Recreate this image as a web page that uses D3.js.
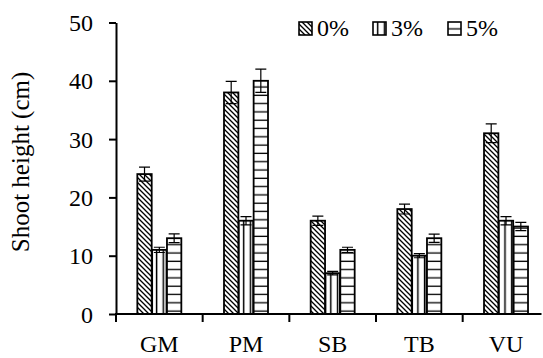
<!DOCTYPE html>
<html><head><meta charset="utf-8">
<script src="https://cdn.jsdelivr.net/npm/d3@7"></script>
<style>body{margin:0;background:#fff}svg{display:block}svg text{fill:#000}</style>
</head><body>
<svg id="c" width="543" height="358"></svg>
<script>
const categories = ["GM","PM","SB","TB","VU"];
const series = ["0%","3%","5%"];
const values0 = [24,38,16,18,31];
const values3 = [11,16,7,10,16];
const values5 = [13,40,11,13,15];
const err0 = [1.2,1.9,0.8,0.85,1.6];
const err3 = [0.45,0.7,0.3,0.35,0.7];
const err5 = [0.75,2.0,0.45,0.7,0.7];
const yTicks = [0,10,20,30,40,50];

const vals = [values0, values3, values5];
const errs = [err0, err3, err5];
const FONT = '"Liberation Serif","Times New Roman",serif';
const FS = 24;
const svg = d3.select("#c");
const defs = svg.append("defs");
const p0 = defs.append("pattern").attr("id","pat0").attr("patternUnits","userSpaceOnUse").attr("width",5).attr("height",5);
p0.append("rect").attr("width",5).attr("height",5).attr("fill","#fff");
p0.append("path").attr("d","M0,0L5,5M-1,4L1,6M4,-1L6,1").attr("stroke","#000").attr("stroke-width",1.3);
const p3 = defs.append("pattern").attr("id","pat3").attr("patternUnits","userSpaceOnUse").attr("width",6.7).attr("height",10);
p3.append("rect").attr("width",6.7).attr("height",10).attr("fill","#fff");
p3.append("path").attr("d","M2.5,0V10").attr("stroke","#000").attr("stroke-width",1.5);
const p5 = defs.append("pattern").attr("id","pat5").attr("patternUnits","userSpaceOnUse").attr("width",10).attr("height",8.3);
p5.append("rect").attr("width",10).attr("height",8.3).attr("fill","#fff");
p5.append("path").attr("d","M0,4H10").attr("stroke","#000").attr("stroke-width",1.3);
const fills = ["url(#pat0)","url(#pat3)","url(#pat5)"];

const left = 116, bandW = 86.67;
const x = d3.scaleBand().domain(categories).range([left, left + bandW*categories.length]).padding(0);
const xs = d3.scaleBand().domain(series).range([x.bandwidth()/2 - 22, x.bandwidth()/2 + 22]).paddingInner(0.03);
const y = d3.scaleLinear().domain([0,50]).range([314, 22.5]);

const g = svg.append("g");
categories.forEach((c,i)=>{
  series.forEach((s,j)=>{
    const bx = x(c) + xs(s), bw = xs.bandwidth();
    const v = vals[j][i], e = errs[j][i];
    g.append("rect").attr("x",bx).attr("y",y(v)).attr("width",bw).attr("height",y(0)-y(v))
      .attr("fill",fills[j]).attr("stroke","#000").attr("stroke-width",1.8);
    const cx = bx + bw/2;
    g.append("path").attr("d",`M${cx},${y(v+e)}V${y(v-e)}M${cx-5.5},${y(v+e)}H${cx+5.5}M${cx-5.5},${y(v-e)}H${cx+5.5}`)
      .attr("stroke","#000").attr("stroke-width",1.2).attr("fill","none");
  });
});

const ya = svg.append("g").attr("transform",`translate(${left},0)`)
  .call(d3.axisLeft(y).tickValues(yTicks).tickSize(7).tickSizeOuter(0).tickPadding(16));
ya.select(".domain").attr("stroke-width",2);
ya.selectAll(".tick line").attr("stroke-width",2);
ya.selectAll("text").style("font-size",FS+"px").style("font-family",FONT).attr("dy","0.34em");

svg.append("line").attr("x1",left-1).attr("x2",541.5).attr("y1",y(0)).attr("y2",y(0)).attr("stroke","#000").attr("stroke-width",2);
categories.forEach(c=>{
  svg.append("line").attr("x1",x(c)).attr("x2",x(c)).attr("y1",y(0)).attr("y2",y(0)+8).attr("stroke","#000").attr("stroke-width",2);
  svg.append("text").attr("x",x(c)+x.bandwidth()/2).attr("y",352).attr("text-anchor","middle")
    .style("font-size",FS+"px").style("font-family",FONT).text(c);
});

svg.append("text").attr("transform","translate(29,162) rotate(-90)").attr("text-anchor","middle")
  .style("font-size","25px").style("font-family",FONT).text("Shoot height (cm)");

const legX = [299,373,448];
series.forEach((s,j)=>{
  svg.append("rect").attr("x",legX[j]).attr("y",22).attr("width",13).attr("height",13).attr("fill",fills[j]).attr("stroke","#000").attr("stroke-width",1.6);
  svg.append("text").attr("x",legX[j]+18).attr("y",36).style("font-size",FS+"px").style("font-family",FONT).text(s);
});
</script>
</body></html>
